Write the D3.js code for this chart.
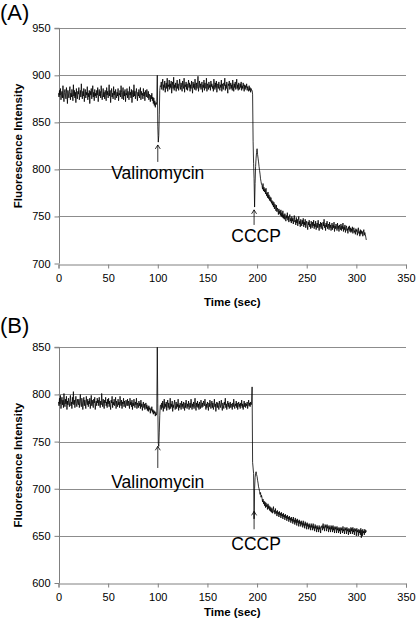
<!DOCTYPE html>
<html><head><meta charset="utf-8">
<script src="https://cdn.jsdelivr.net/npm/d3@7"></script>
<style>body{margin:0;background:#fff}svg{display:block}text{font-family:Arial,"Liberation Sans",sans-serif}</style>
</head><body><svg id="c" width="416" height="624"></svg>
<script>
// ---- data (sampled every 0.5 s) ----
const timeStep = 0.5;
const xTicks = [0,50,100,150,200,250,300,350];
const yTicksA = [700,750,800,850,900,950];
const yTicksB = [600,650,700,750,800,850];
// Panel A: baseline 0-98.5 s
const a1 = [
881,877,884,879,886,874,880,883,876,889,878,872,882,885,879,875,887,881,870,884,
879,876,883,888,874,881,877,885,880,873,890,878,884,876,882,871,886,879,875,883,
880,887,874,879,884,877,891,881,875,883,878,886,872,880,885,876,882,879,888,874,
881,877,884,870,883,879,886,875,880,889,877,882,873,885,878,881,876,884,879,887,
872,880,885,878,883,876,889,881,874,879,886,877,882,875,884,880,873,887,879,883,
876,882,890,878,884,871,880,886,877,881,875,888,879,883,874,885,880,876,882,878,
886,873,881,879,884,877,889,882,875,880,887,874,883,878,885,872,881,879,886,876,
883,880,874,888,879,882,876,885,871,880,884,877,890,878,883,875,881,886,879,873,
882,878,885,876,880,887,874,883,879,881,875,886,878,882,873,884,880,877,885,879,
876,883,874,880,878,872,879,875,881,873,877,870,876,868,873,866,871,869];
// Panel A: valinomycin addition 99-102.5 s
const a2 = [872,900,846,829,836,858,884,889];
// Panel A: baseline 103-194.5 s
const a3 = [
888,893,885,891,896,884,890,887,894,882,889,892,886,897,883,890,888,895,885,891,
887,894,881,889,893,886,898,884,890,887,892,883,889,895,886,891,884,888,896,890,
885,892,887,883,894,889,886,897,882,890,888,893,885,891,884,889,895,887,892,883,
890,886,894,888,881,893,887,891,885,896,889,884,892,886,890,899,883,888,894,887,
891,885,889,893,882,890,887,895,884,892,888,886,897,883,891,889,885,893,887,890,
884,894,888,891,886,889,883,896,890,885,892,887,894,882,889,891,886,893,888,884,
890,887,895,883,891,888,885,892,889,897,884,890,886,893,887,881,891,889,894,885,
888,892,886,890,884,895,889,883,891,887,893,885,889,896,886,890,884,892,888,885,
891,887,893,884,889,886,892,888,883,890,885,889,887,891,884,888,886,883,889,884,
887,882,886,884];
// Panel A: CCCP addition and decay 195-310 s
const a4 = [
884,880,830,806,790,760,785,803,812,818,822,816,812,808,803,799,795,790,787,784,
783,779,785,777,781,776,779,774,780,772,775,770,776,769,773,767,771,766,770,764,
767,762,766,760,765,758,763,761,756,762,755,759,757,752,758,753,756,751,757,750,
754,749,756,748,752,747,753,750,745,751,748,754,746,750,744,749,752,745,748,743,
750,745,748,742,747,751,744,746,741,749,743,747,740,746,750,742,745,739,747,743,
740,746,742,748,739,744,741,747,738,743,745,740,736,744,741,746,739,742,737,745,
741,738,744,740,746,737,742,739,745,736,741,743,738,746,740,735,742,739,744,737,
743,739,736,744,740,747,738,741,735,743,739,745,737,740,742,736,744,738,741,735,
739,743,736,741,738,744,734,740,737,742,739,735,743,737,740,734,741,738,736,742,
735,740,737,743,734,739,736,741,733,738,740,735,737,732,739,736,740,734,738,733,
737,734,739,732,736,738,733,735,731,737,734,736,730,735,738,732,734,729,736,731,
735,732,734,729,733,736,730,733,731,728,725];
// Panel B: baseline 0-98.5 s
const b1 = [
792,788,796,790,799,785,793,797,789,794,786,801,791,787,795,790,798,784,793,789,
796,791,787,794,799,788,792,785,797,790,803,789,794,786,792,798,790,787,795,791,
789,795,786,793,800,790,787,796,792,784,791,797,788,794,790,785,798,792,789,795,
787,793,790,796,785,792,799,788,794,789,786,795,791,797,784,790,793,788,796,791,
794,788,797,790,786,793,789,801,792,787,795,790,785,794,791,797,788,792,786,795,
790,796,787,793,789,784,794,791,798,786,792,789,795,788,791,797,785,793,790,787,
795,789,792,786,798,791,788,794,785,792,790,796,787,793,789,786,794,791,788,795,
788,793,790,785,796,789,792,787,794,784,791,788,795,790,786,792,789,796,785,791,
789,786,793,788,791,785,794,787,790,783,789,792,786,790,784,788,791,785,789,783,
787,782,788,784,786,780,785,783,787,781,784,779,783,780,782,777,781,778];
// Panel B: valinomycin addition 99-102.5 s
const b2 = [780,850,790,748,745,760,778,788];
// Panel B: baseline 103-194.5 s
const b3 = [
789,784,791,786,793,782,788,795,785,790,787,792,783,789,794,786,791,784,788,796,
785,790,787,793,782,789,786,791,794,784,788,792,785,790,787,795,783,789,786,791,
788,784,793,787,790,785,792,788,783,791,786,794,789,785,790,787,793,784,788,791,
786,795,789,784,790,787,792,785,789,796,788,783,791,787,793,786,790,784,792,788,
785,794,789,786,791,787,793,790,788,795,789,784,790,786,792,788,783,791,787,794,
790,785,789,793,786,791,784,788,795,787,790,782,789,792,786,791,788,784,793,789,
786,790,794,787,783,791,788,785,792,789,796,786,790,784,789,793,787,791,785,789,
792,786,790,788,784,791,787,795,789,785,790,788,793,786,791,784,789,792,787,790,
785,791,788,794,786,790,784,789,793,787,791,786,790,788,792,785,789,794,788,791,
787,792,789,791];
// Panel B: CCCP addition and decay 195-310 s
const b4 = [
808,728,722,716,668,700,712,716,718,715,713,709,706,702,700,697,694,696,691,693,
690,686,689,684,687,682,686,680,685,681,683,678,684,679,682,677,681,676,680,675,
679,674,678,681,675,677,673,679,674,676,671,677,673,675,670,676,672,674,669,675,
671,673,668,674,670,672,667,673,669,671,666,672,668,670,665,671,667,669,664,670,
666,668,663,670,665,667,662,669,664,667,661,668,664,666,660,667,663,665,660,666,
662,664,659,666,661,663,658,665,661,663,657,664,660,662,657,663,659,661,656,663,
659,661,656,663,658,660,655,662,658,660,654,661,657,659,654,661,657,659,653,660,
659,661,656,663,658,660,655,662,659,661,655,662,658,660,654,661,657,659,654,661,
657,660,654,661,656,659,653,660,657,659,653,660,656,658,653,659,655,658,652,659,
656,658,653,660,655,657,652,659,656,658,652,659,655,657,651,658,654,657,652,659,
655,658,652,659,654,657,651,658,655,657,650,658,654,656,650,657,653,656,651,658,
648,656,650,657,653,655,651,657,653,656,654];
const seriesA = a1.concat(a2, a3, a4);
const seriesB = b1.concat(b2, b3, b4);
const panelLabels = ["(A)","(B)"];
const annotA = [{t:100,label:"Valinomycin",tip:826,tail:808,text:796,dx:0},{t:197,label:"CCCP",tip:757,tail:741,text:729,dx:2}];
const annotB = [{t:100,label:"Valinomycin",tip:745,tail:722,text:707,dx:0},{t:197,label:"CCCP",tip:676,tail:657,text:641,dx:2}];
const xTitle = "Time (sec)";
const yTitle = "Fluorescence Intensity";

const svg = d3.select("#c");
svg.append("rect").attr("width",416).attr("height",624).attr("fill","#fff");

function panel(cfg){
  const x = d3.scaleLinear().domain([0,350]).range([58.5,406]);
  const y = d3.scaleLinear().domain([cfg.yTicks[0], cfg.yTicks[cfg.yTicks.length-1]]).range([cfg.bottom, cfg.top]);
  const g = svg.append("g");
  g.selectAll("line.grid").data(cfg.yTicks.slice(1)).join("line")
    .attr("x1",x(0)).attr("x2",x(350)).attr("y1",d=>Math.round(y(d))+0.5).attr("y2",d=>Math.round(y(d))+0.5)
    .attr("stroke","#8c8c8c").attr("stroke-width",1);
  const ya = g.append("g").attr("transform",`translate(${Math.round(x(0))+0.5},0)`)
    .call(d3.axisLeft(y).tickValues(cfg.yTicks).tickSize(5).tickPadding(4).tickFormat(d3.format("d")));
  const xa = g.append("g").attr("transform",`translate(0,${Math.round(y(cfg.yTicks[0]))+0.5})`)
    .call(d3.axisBottom(x).tickValues(xTicks).tickSize(4).tickPadding(6).tickFormat(d3.format("d")));
  [ya,xa].forEach(a=>{
    a.select(".domain").attr("stroke","#808080");
    a.selectAll(".tick line").attr("stroke","#808080");
    a.selectAll(".tick text").attr("font-size",11).attr("fill","#000").attr("font-family","Arial, 'Liberation Sans', sans-serif");
  });
  ya.select(".domain").attr("d",`M-5,${y(cfg.yTicks[cfg.yTicks.length-1])}H0V${y(cfg.yTicks[0])}`);
  const line = d3.line().x((d,i)=>x(i*timeStep)).y(d=>y(d));
  g.append("path").datum(cfg.series).attr("d",line).attr("fill","none").attr("stroke","#000").attr("stroke-width",0.8).attr("stroke-linejoin","round");
  cfg.annot.forEach(a=>{
    const ax = x(a.t);
    g.append("line").attr("x1",ax).attr("x2",ax).attr("y1",y(a.tail)).attr("y2",y(a.tip)).attr("stroke","#000").attr("stroke-width",0.8);
    g.append("path").attr("d",`M${ax-2.5},${y(a.tip)+4}L${ax},${y(a.tip)}L${ax+2.5},${y(a.tip)+4}`).attr("fill","none").attr("stroke","#000").attr("stroke-width",0.8);
    g.append("text").attr("x",ax+a.dx).attr("y",y(a.text)).attr("dy","0.35em")
      .attr("text-anchor","middle").attr("font-size",17.5).attr("fill","#000").text(a.label);
  });
  g.append("text").attr("x",x(175)).attr("y",cfg.xTitleY).attr("dy","0.35em").attr("text-anchor","middle").attr("font-size",11.5).attr("font-weight","bold").text(xTitle);
  g.append("text").attr("transform",`translate(18,${(cfg.top+cfg.bottom)/2}) rotate(-90)`).attr("text-anchor","middle").attr("dy","0.35em")
    .attr("font-size",11.5).attr("font-weight","bold").text(yTitle);
  svg.append("text").attr("x",0).attr("y",cfg.labelY).attr("font-size",22).text(cfg.label);
}
panel({series:seriesA,yTicks:yTicksA,top:28.3,bottom:263.5,annot:annotA,xTitleY:302,label:panelLabels[0],labelY:20});
panel({series:seriesB,yTicks:yTicksB,top:347.3,bottom:583,annot:annotB,xTitleY:612,label:panelLabels[1],labelY:333});
</script></body></html>
